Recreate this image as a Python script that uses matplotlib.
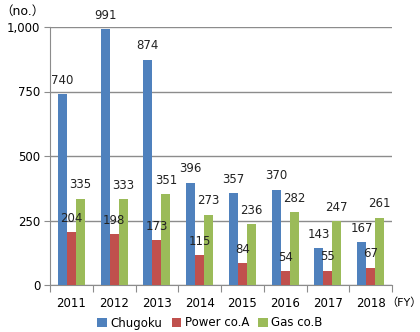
import numpy as np
import matplotlib.pyplot as plt
from matplotlib.patches import Patch

years = ['2011', '2012', '2013', '2014', '2015', '2016', '2017', '2018']
chugoku = [740, 991, 874, 396, 357, 370, 143, 167]
power_a = [204, 198, 173, 115, 84, 54, 55, 67]
gas_b = [335, 333, 351, 273, 236, 282, 247, 261]

series = [('Chugoku', chugoku, '#4F81BD'),
          ('Power co.A', power_a, '#C0504D'),
          ('Gas co.B', gas_b, '#9BBB59')]

fam = ['DejaVu Sans', 'Noto Sans CJK JP']
plt.rcParams['font.family'] = fam
fs = 8.5

fig = plt.figure(figsize=(4.2, 3.32), dpi=100)
ax = fig.add_axes([50 / 420, 1 - 285 / 332, 342 / 420, 258 / 332])

x = np.arange(len(years))
w = 0.21
for i, (name, vals, col) in enumerate(series):
    pos = x + (i - 1) * w
    ax.bar(pos, vals, width=w, color=col, zorder=3)
    for p, v in zip(pos, vals):
        ax.annotate(str(v), (p, v), xytext=(0, 10), textcoords='offset points',
                    ha='center', va='center', fontsize=fs, color='#222222', zorder=4)

ax.set_xlim(-0.5, len(years) - 0.5)
ax.set_ylim(0, 1000)
ax.set_yticks([0, 250, 500, 750, 1000])
ax.set_yticklabels(['0', '250', '500', '750', '1,000'], fontsize=fs)
ax.yaxis.grid(True, color='#8C8C8C', linewidth=1, zorder=0)

# category boundary ticks with labels at the centres
ax.set_xticks(np.arange(len(years) + 1) - 0.5)
ax.set_xticklabels([])
ax.set_xticks(x, minor=True)
ax.set_xticklabels(years, minor=True, fontsize=fs)
ax.tick_params(axis='x', which='major', length=5, color='#8C8C8C', direction='out')
ax.tick_params(axis='x', which='minor', length=0, pad=8.5)
ax.tick_params(axis='y', length=4, color='#8C8C8C', pad=3)

for s in ['top', 'right']:
    ax.spines[s].set_visible(False)
for s in ['left', 'bottom']:
    ax.spines[s].set_color('#8C8C8C')

fig.text(0 / 420, 1 - 11 / 332, '（no.）', fontsize=fs + 0.5, ha='left', va='center', family=fam)
fig.text(386 / 420, 1 - 303 / 332, '（FY）', fontsize=8, ha='left', va='center', family=fam)

handles = [Patch(facecolor=c, label=n) for n, _, c in series]
fig.legend(handles=handles, loc='center', bbox_to_anchor=(210 / 420, 1 - 323 / 332),
           ncol=3, frameon=False, fontsize=fs, handlelength=0.8, handleheight=0.8,
           handletextpad=0.3, columnspacing=0.8)

fig.savefig('out.png', dpi=100)
